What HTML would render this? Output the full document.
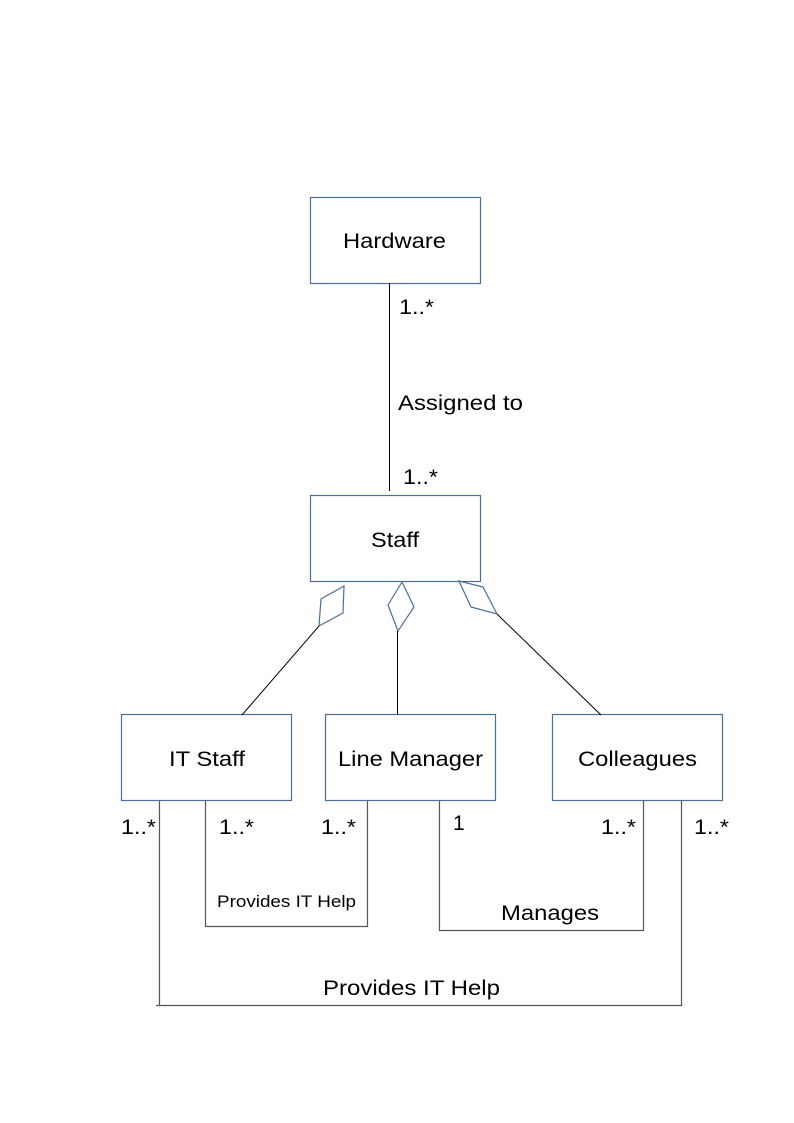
<!DOCTYPE html>
<html><head><meta charset="utf-8"><style>html,body{margin:0;padding:0;background:#fff}svg{display:block}text{font-family:"Liberation Sans",sans-serif;fill:#000}</style></head>
<body>
<svg width="794" height="1123" viewBox="0 0 794 1123" xmlns="http://www.w3.org/2000/svg">
<g fill="#fff" stroke="#4a6f9a" stroke-width="1.2">
<rect x="310.5" y="197.5" width="170" height="86"/>
<rect x="310.5" y="495.5" width="170" height="86"/>
<rect x="121.5" y="714.5" width="170" height="86"/>
<rect x="325.5" y="714.5" width="170" height="86"/>
<rect x="552.5" y="714.5" width="170" height="86"/>
<polygon points="344,586 321,599 319,626 343,613" fill="none"/>
<polygon points="402,582 414,607 398,631 388,605" fill="none"/>
<polygon points="459,581 483,587 497,614 471,607" fill="none"/>
</g>
<g stroke="#000" stroke-width="1" fill="none">
<line x1="389.5" y1="283" x2="389.5" y2="491"/>
<line x1="319" y1="626" x2="242" y2="715"/>
<line x1="397.5" y1="631" x2="397.5" y2="714"/>
<line x1="497" y1="614" x2="601" y2="715"/>
</g>
<g stroke="#555" stroke-width="1.2" fill="none">
<polyline points="159.5,801 159.5,1005.5 681.5,1005.5 681.5,801"/>
<line x1="156" y1="1005.5" x2="160" y2="1005.5"/>
<polyline points="205.5,801 205.5,926.5 367.5,926.5 367.5,801"/>
<polyline points="439.5,801 439.5,930.5 643.5,930.5 643.5,801"/>
</g>
<g font-size="21" lengthAdjust="spacingAndGlyphs">
<text x="343" y="248" textLength="103" lengthAdjust="spacingAndGlyphs">Hardware</text>
<text x="371" y="547" textLength="48" lengthAdjust="spacingAndGlyphs">Staff</text>
<text x="169" y="766" textLength="76" lengthAdjust="spacingAndGlyphs">IT Staff</text>
<text x="338" y="766" textLength="145" lengthAdjust="spacingAndGlyphs">Line Manager</text>
<text x="578" y="766" textLength="119" lengthAdjust="spacingAndGlyphs">Colleagues</text>
<text x="399" y="314" textLength="35" lengthAdjust="spacingAndGlyphs">1..*</text>
<text x="398" y="410" textLength="125" lengthAdjust="spacingAndGlyphs">Assigned to</text>
<text x="403" y="484" textLength="35" lengthAdjust="spacingAndGlyphs">1..*</text>
<text x="121" y="834" textLength="35" lengthAdjust="spacingAndGlyphs">1..*</text>
<text x="219" y="834" textLength="35" lengthAdjust="spacingAndGlyphs">1..*</text>
<text x="321" y="834" textLength="35" lengthAdjust="spacingAndGlyphs">1..*</text>
<text x="453" y="830">1</text>
<text x="601" y="834" textLength="35" lengthAdjust="spacingAndGlyphs">1..*</text>
<text x="694" y="834" textLength="35" lengthAdjust="spacingAndGlyphs">1..*</text>
<text x="501" y="920" textLength="98" lengthAdjust="spacingAndGlyphs">Manages</text>
<text x="323" y="995" textLength="177" lengthAdjust="spacingAndGlyphs">Provides IT Help</text>
<text x="217" y="907" font-size="17" textLength="139" lengthAdjust="spacingAndGlyphs">Provides IT Help</text>
</g>
</svg>
</body></html>
